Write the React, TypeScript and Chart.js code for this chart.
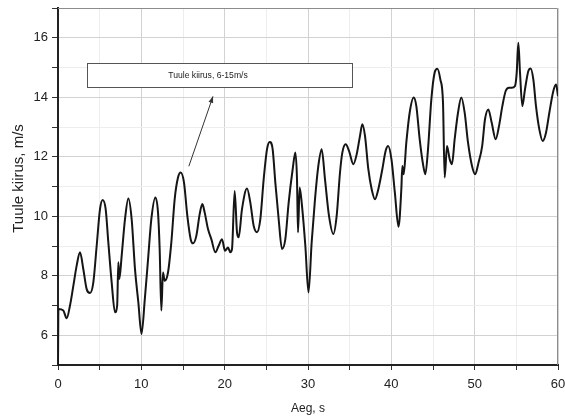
import React, { useEffect, useRef } from 'react';
import { Chart, registerables } from 'chart.js';

Chart.register(...registerables);

// ---- data ----
const times: number[] = [
  0, 0.05, 0.64, 1.04, 1.44, 1.84, 2.24, 2.64, 3.04, 3.44, 3.84, 4.24, 4.64, 5.04, 5.36, 5.72,
  6.04, 6.44, 6.84, 7.1, 7.24, 7.36, 7.64, 8.04, 8.44, 8.84, 9.24, 9.64, 10.02, 10.42, 10.82,
  11.2, 11.68, 12.0, 12.2, 12.4, 12.6, 12.8, 13.2, 13.6, 14.0, 14.4, 14.72, 15.12, 15.52, 15.92,
  16.2, 16.6, 17.0, 17.32, 17.6, 18.0, 18.4, 18.88, 19.28, 19.68, 20.04, 20.4, 20.68, 20.88,
  21.2, 21.48, 21.68, 22.08, 22.68, 23.08, 23.48, 23.88, 24.28, 24.68, 25.08, 25.4, 25.76,
  26.08, 26.48, 26.88, 27.28, 27.68, 28.16, 28.48, 28.68, 28.8, 29.0, 29.28, 29.68, 30.06,
  30.44, 30.84, 31.24, 31.64, 32.04, 32.52, 33.04, 33.44, 33.84, 34.12, 34.52, 34.92, 35.44,
  35.84, 36.24, 36.52, 36.84, 37.24, 37.64, 38.04, 38.44, 38.92, 39.32, 39.62, 40.02, 40.42,
  40.86, 41.2, 41.32, 41.48, 41.8, 42.2, 42.68, 43.0, 43.4, 43.8, 44.08, 44.4, 44.8, 45.2,
  45.52, 45.88, 46.2, 46.4, 46.68, 47.0, 47.28, 47.6, 48.0, 48.4, 48.8, 49.2, 49.68, 50.06,
  50.46, 50.9, 51.24, 51.64, 52.04, 52.52, 52.92, 53.32, 53.72, 54.12, 54.44, 54.84, 55.04,
  55.24, 55.44, 55.72, 56.04, 56.44, 56.72, 57.04, 57.36, 57.76, 58.16, 58.56, 58.96, 59.44,
  59.76, 60.0,
];

const speeds: number[] = [
  5.0, 6.88, 6.83, 6.57, 7.0, 7.66, 8.34, 8.79, 8.22, 7.55, 7.42, 7.78, 9.0, 10.24, 10.55, 10.24,
  9.12, 7.78, 6.77, 7.0, 8.45, 7.89, 8.67, 9.9, 10.6, 9.9, 8.22, 7.11, 6.04, 7.22, 8.6,
  9.9, 10.63, 10.13, 8.9, 6.83, 8.11, 7.83, 8.11, 9.12, 10.57, 11.3, 11.47, 11.13, 10.01, 9.23,
  9.09, 9.34, 10.07, 10.41, 10.13, 9.57, 9.23, 8.79, 9.01, 9.23, 8.84, 8.95, 8.79, 8.9,
  10.85, 9.46, 9.29, 10.24, 10.93, 10.46, 9.68, 9.46, 9.9, 11.24, 12.25, 12.5, 12.25,
  11.13, 9.9, 8.9, 9.23, 10.46, 11.58, 12.14, 11.24, 9.46, 10.97, 10.35, 9.01, 7.44,
  9.12, 10.57, 11.69, 12.25, 11.24, 10.01, 9.4, 10.01, 11.47, 12.14, 12.42, 12.2, 11.75,
  12.08, 12.7, 13.09, 12.7, 11.58, 10.91, 10.57, 10.91, 11.58, 12.2, 12.36, 11.9, 10.8,
  9.65, 10.91, 11.69, 11.41, 12.48, 13.48, 13.99, 13.7, 12.59, 11.75, 11.41, 12.25, 13.93, 14.83,
  14.96, 14.6, 13.82, 11.3, 12.36, 11.92, 11.75, 12.59, 13.48, 13.99, 13.48, 12.48, 11.69, 11.41,
  11.8, 12.36, 13.26, 13.59, 13.15, 12.59, 13.03, 13.7, 14.21, 14.32, 14.32, 14.38, 14.8,
  15.83, 14.83, 13.7, 14.27, 14.88, 14.97, 14.6, 13.7, 12.92, 12.53, 12.81, 13.48, 14.21,
  14.43, 14.04,
];

const xLabeledTicks: number[] = [0, 10, 20, 30, 40, 50, 60];
const yLabeledTicks: number[] = [6, 8, 10, 12, 14, 16];
const xTitle = 'Aeg, s';
const yTitle = 'Tuule kiirus, m/s';
const annotationText = 'Tuule kiirus, 6-15m/s';

const FONT = '"Liberation Sans", Arial, sans-serif';

const framePlugin = {
  id: 'frameAndNote',
  beforeDatasetsDraw(chart: any) {
    const { ctx, chartArea: a } = chart;
    ctx.save();
    ctx.strokeStyle = '#8c8c8c';
    ctx.lineWidth = 1;
    ctx.beginPath();
    ctx.moveTo(a.left, a.top + 0.5);
    ctx.lineTo(a.right - 0.5, a.top + 0.5);
    ctx.lineTo(a.right - 0.5, a.bottom);
    ctx.stroke();
    ctx.restore();
  },
  afterDatasetsDraw(chart: any, _args: any, opts: any) {
    const { ctx, chartArea: a } = chart;
    const xs = chart.scales.x;
    const ys = chart.scales.y;
    const bx1 = Math.round(xs.getPixelForValue(opts.box[0])) + 0.5;
    const bx2 = Math.round(xs.getPixelForValue(opts.box[1])) + 0.5;
    const by1 = Math.round(ys.getPixelForValue(opts.box[3])) + 0.5;
    const by2 = Math.round(ys.getPixelForValue(opts.box[2])) + 0.5;
    ctx.save();
    ctx.fillStyle = '#ffffff';
    ctx.fillRect(bx1, by1, bx2 - bx1, by2 - by1);
    ctx.strokeStyle = '#555';
    ctx.lineWidth = 1;
    ctx.strokeRect(bx1, by1, bx2 - bx1, by2 - by1);
    ctx.fillStyle = '#222';
    ctx.font = `8.6px ${FONT}`;
    ctx.textAlign = 'center';
    ctx.textBaseline = 'middle';
    ctx.fillText(opts.text, xs.getPixelForValue(opts.textAt[0]), (by1 + by2) / 2);
    // arrow
    const ax1 = xs.getPixelForValue(opts.arrow[0]);
    const ay1 = ys.getPixelForValue(opts.arrow[1]);
    const ax2 = xs.getPixelForValue(opts.arrow[2]);
    const ay2 = ys.getPixelForValue(opts.arrow[3]);
    ctx.strokeStyle = '#333';
    ctx.lineWidth = 1;
    ctx.beginPath();
    ctx.moveTo(ax1, ay1);
    ctx.lineTo(ax2, ay2);
    ctx.stroke();
    const ang = Math.atan2(ay2 - ay1, ax2 - ax1);
    const L = 7;
    const W = 0.35;
    ctx.fillStyle = '#333';
    ctx.beginPath();
    ctx.moveTo(ax2, ay2);
    ctx.lineTo(ax2 - L * Math.cos(ang - W), ay2 - L * Math.sin(ang - W));
    ctx.lineTo(ax2 - L * Math.cos(ang + W), ay2 - L * Math.sin(ang + W));
    ctx.closePath();
    ctx.fill();
    ctx.restore();

    // y-axis title (drawn here so it can sit slightly above the plot's middle, as in the source)
    ctx.save();
    ctx.translate(19, (a.top + a.bottom) / 2 - 8);
    ctx.rotate(-Math.PI / 2);
    ctx.fillStyle = '#222';
    ctx.font = `15px ${FONT}`;
    ctx.textAlign = 'center';
    ctx.textBaseline = 'middle';
    ctx.fillText(opts.yTitle, 0, 0);
    ctx.restore();
  },
};

export default function App() {
  const ref = useRef<HTMLCanvasElement | null>(null);

  useEffect(() => {
    if (!ref.current) return;
    const points = times.map((t, i) => ({ x: t, y: speeds[i] }));
    const chart = new Chart(ref.current, {
      type: 'line',
      data: {
        datasets: [
          {
            data: points,
            borderColor: '#151515',
            borderWidth: 2,
            pointRadius: 0,
            cubicInterpolationMode: 'monotone',
            fill: false,
          },
        ],
      },
      options: {
        responsive: false,
        animation: false,
        events: [],
        layout: { padding: { top: 8, right: 7, left: 0, bottom: 0 } },
        plugins: {
          legend: { display: false },
          tooltip: { enabled: false },
          frameAndNote: {
            box: [3.5, 35.3, 14.33, 15.14],
            textAt: [18.0],
            text: annotationText,
            arrow: [15.7, 11.68, 18.6, 14.03],
            yTitle,
          },
        } as any,
        scales: {
          x: {
            type: 'linear',
            min: 0,
            max: 60,
            afterFit: (s: any) => {
              s.height = 54;
              s.paddingLeft = 0;
              s.paddingRight = 0;
            },
            afterBuildTicks: (s: any) => {
              const ticks: any[] = [];
              for (let v = 0; v <= 60; v += 5) ticks.push({ value: v });
              s.ticks = ticks;
            },
            ticks: {
              autoSkip: false,
              maxRotation: 0,
              padding: 7,
              color: '#222',
              font: { family: FONT, size: 13 },
              callback: (v: any) => (xLabeledTicks.includes(Number(v)) ? String(v) : ''),
            },
            grid: {
              color: (c: any) => (c.tick && c.tick.value % 10 === 0 ? '#d2d2d2' : '#ededed'),
              lineWidth: 1,
              tickLength: 5,
              tickColor: '#333',
              tickWidth: 1,
            },
            border: { color: '#222', width: 2 },
            title: {
              display: true,
              text: xTitle,
              color: '#222',
              font: { family: FONT, size: 12 },
              padding: { top: 0, bottom: 3 },
            },
          },
          y: {
            type: 'linear',
            min: 5,
            max: 17,
            afterFit: (s: any) => {
              s.width = 58;
              s.paddingTop = 0;
              s.paddingBottom = 0;
            },
            afterBuildTicks: (s: any) => {
              const ticks: any[] = [];
              for (let v = 5; v <= 17; v += 1) ticks.push({ value: v });
              s.ticks = ticks;
            },
            ticks: {
              autoSkip: false,
              padding: 4,
              color: '#222',
              font: { family: FONT, size: 13 },
              callback: (v: any) => (yLabeledTicks.includes(Number(v)) ? String(v) : ''),
            },
            grid: {
              color: (c: any) => (c.tick && c.tick.value % 2 === 0 ? '#d2d2d2' : '#ededed'),
              lineWidth: 1,
              tickLength: 6,
              tickColor: '#333',
              tickWidth: 1,
            },
            border: { color: '#222', width: 2 },
            title: { display: false },
          },
        },
      },
      plugins: [framePlugin as any],
    });
    return () => chart.destroy();
  }, []);

  return (
    <div style={{ position: 'absolute', left: 0, top: 0, width: 565, height: 419, background: '#fff' }}>
      <canvas ref={ref} width={565} height={419} style={{ display: 'block' }} />
    </div>
  );
}
